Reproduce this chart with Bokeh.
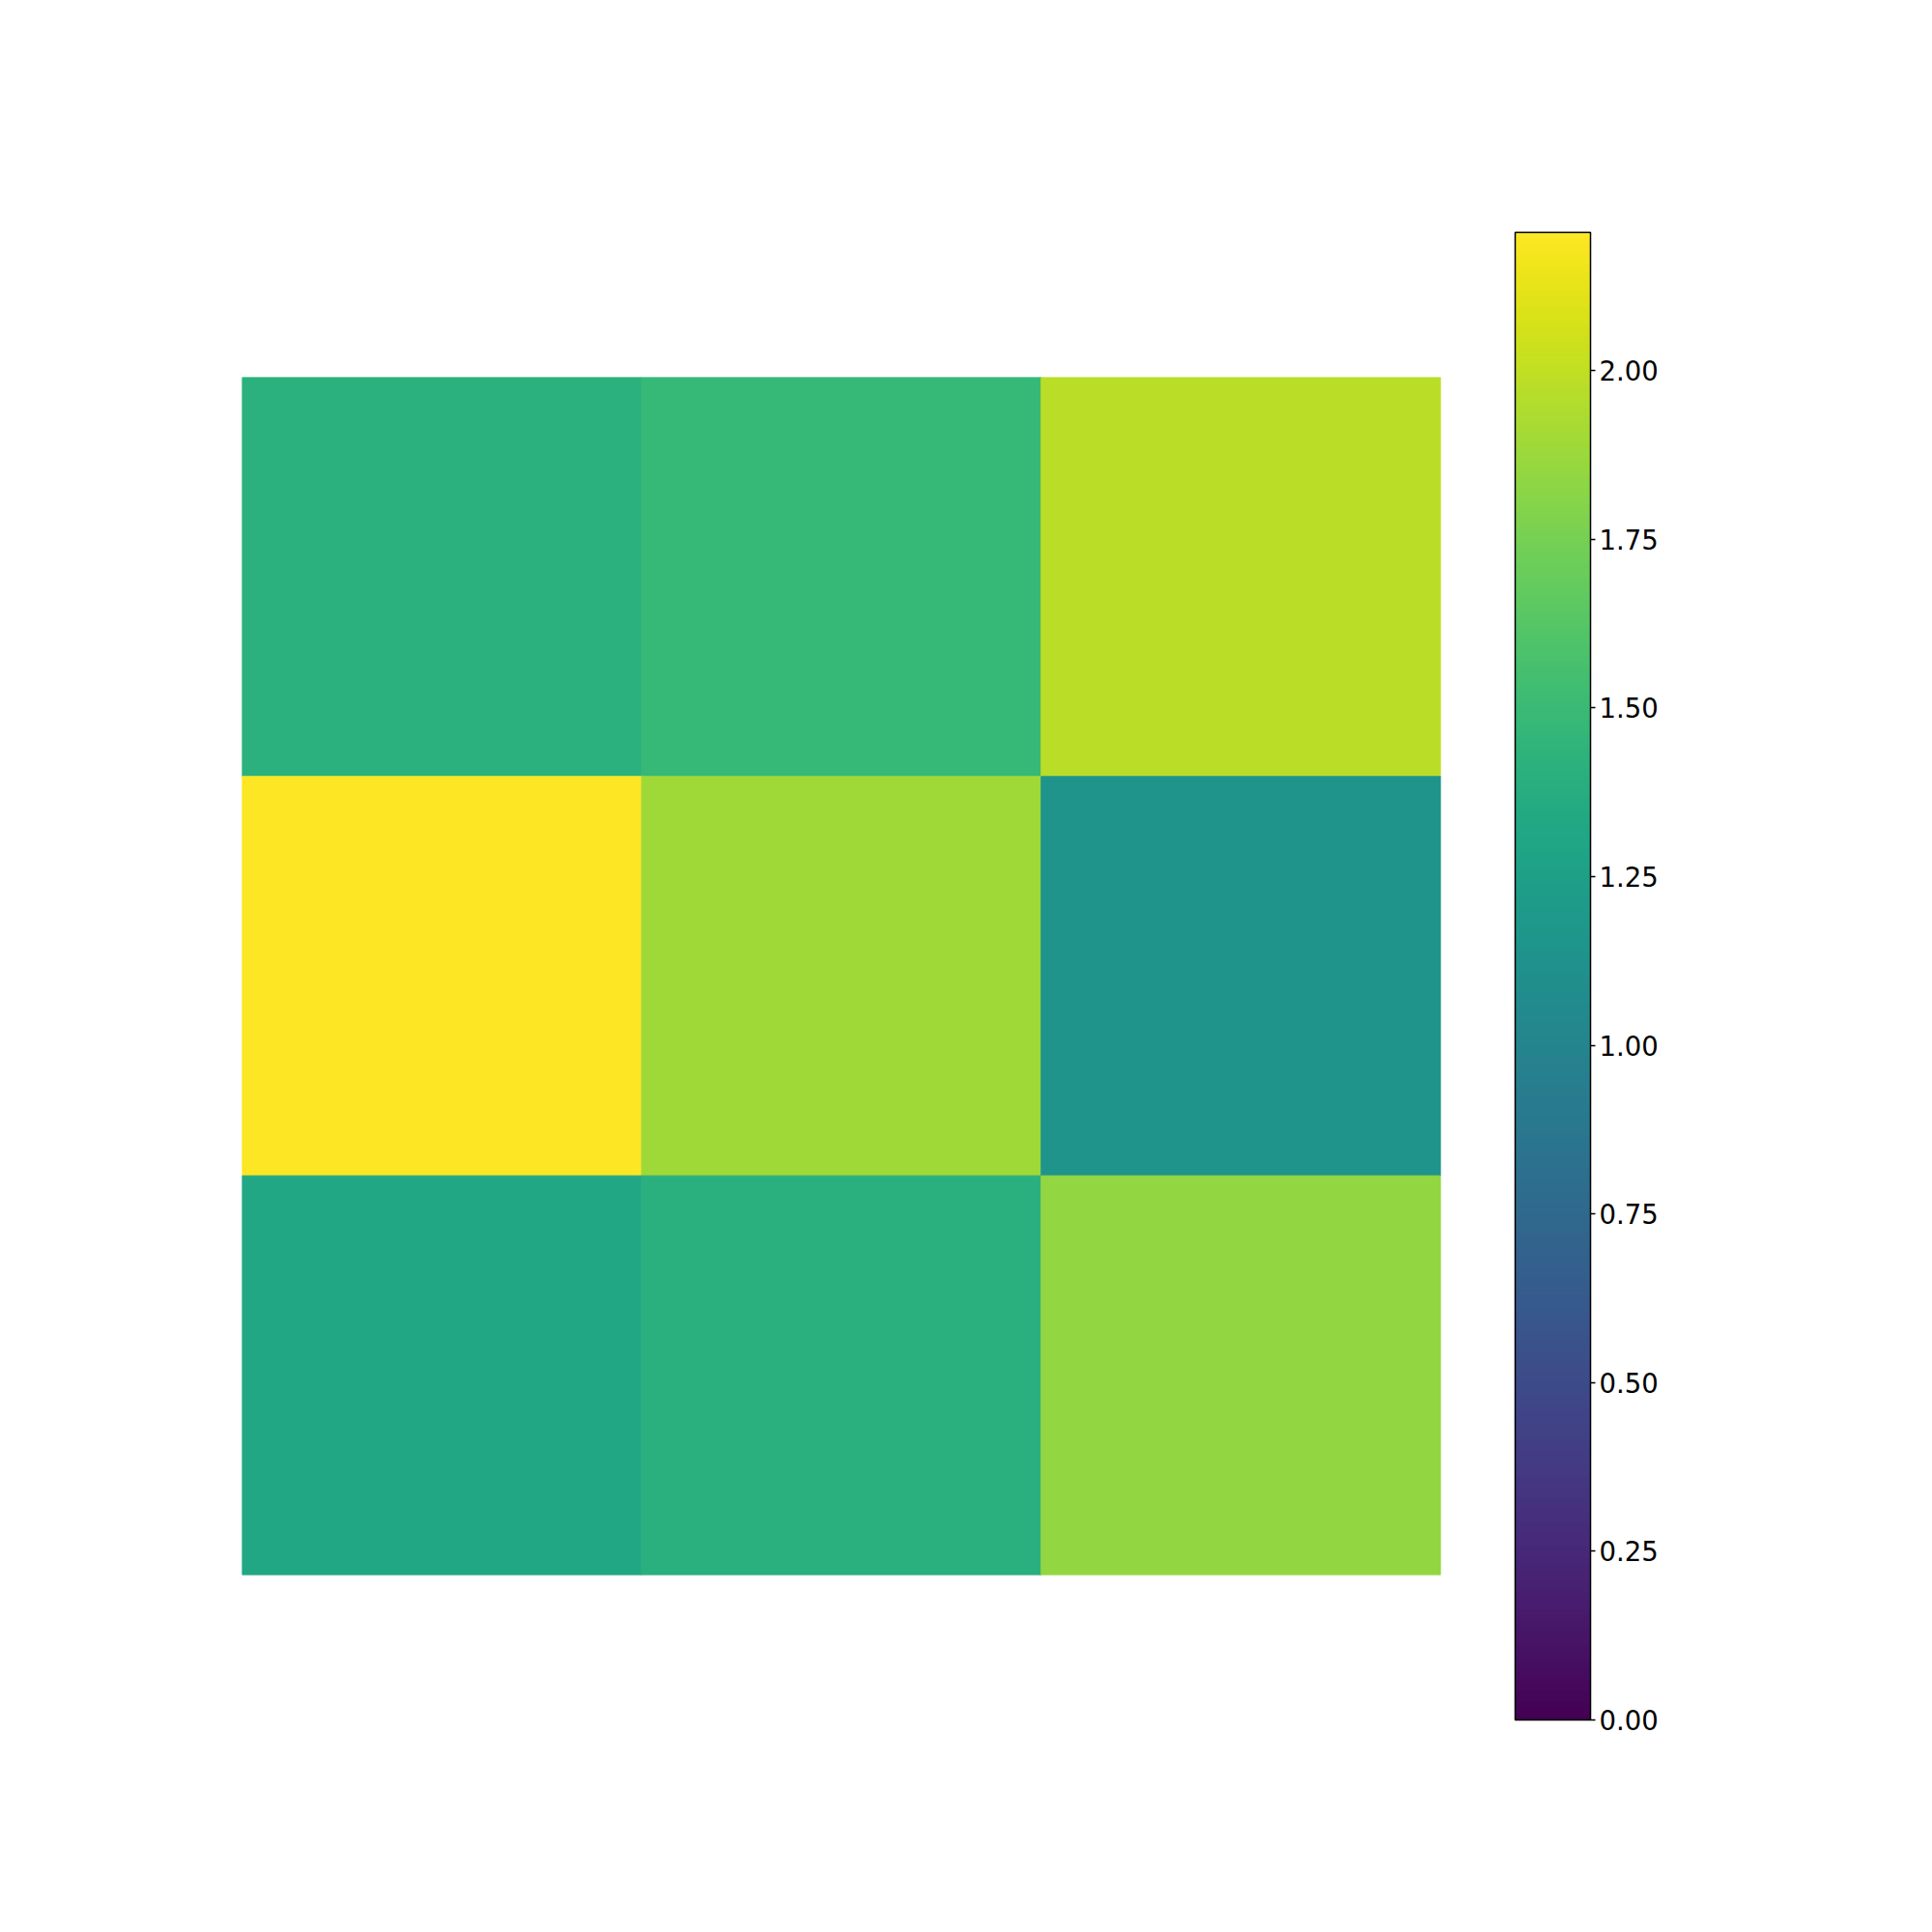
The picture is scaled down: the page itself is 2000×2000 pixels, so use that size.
from bokeh.plotting import figure
from bokeh.models import (LinearColorMapper, ColorBar, FixedTicker,
                          PrintfTickFormatter, ColumnDataSource, Range1d)
from bokeh.palettes import Viridis256
from bokeh.embed import file_html
from bokeh.resources import INLINE

# ---- data ----
row_index = [0, 1, 2]
col_index = [0, 1, 2]
row0 = [1.41, 1.48, 1.98]
row1 = [2.205, 1.89, 1.14]
row2 = [1.32, 1.40, 1.85]
cbar_ticks = [0.0, 0.25, 0.5, 0.75, 1.0, 1.25, 1.5, 1.75, 2.0]
vmin, vmax = 0.0, 2.205

grid = [row0, row1, row2]
xs, ys, vs = [], [], []
for r, row in zip(row_index, grid):
    for c, v in zip(col_index, row):
        xs.append(c)
        ys.append(r)
        vs.append(v)
src = ColumnDataSource(dict(x=xs, y=ys, v=vs))

mapper = LinearColorMapper(palette=Viridis256, low=vmin, high=vmax)

p = figure(width=1900, height=1900,
           x_range=Range1d(-0.5, 2.5), y_range=Range1d(2.5, -0.5),
           x_axis_location=None, y_axis_location=None,
           output_backend="svg", toolbar_location=None,
           min_border_left=250, min_border_right=409,
           min_border_top=390, min_border_bottom=270)
p.grid.visible = False
p.outline_line_color = None
p.background_fill_color = "white"
p.border_fill_color = "white"

p.rect(x="x", y="y", width=1, height=1, source=src,
       fill_color={"field": "v", "transform": mapper},
       line_color={"field": "v", "transform": mapper}, line_width=1)

cb = ColorBar(color_mapper=mapper, location=(1318, -150),
              width=78, height=1540, padding=0,
              ticker=FixedTicker(ticks=cbar_ticks),
              formatter=PrintfTickFormatter(format="%.2f"),
              major_label_text_font="DejaVu Sans",
              major_label_text_font_size="27.5px",
              major_label_text_color="black",
              major_tick_in=0, major_tick_out=5,
              major_tick_line_color="black", major_tick_line_width=1.5,
              minor_tick_line_color=None,
              bar_line_color="black", bar_line_width=1.5,
              label_standoff=4,
              border_line_color=None, background_fill_color=None)
p.add_layout(cb, "center")

open("out.html", "w").write(file_html(p, INLINE))
